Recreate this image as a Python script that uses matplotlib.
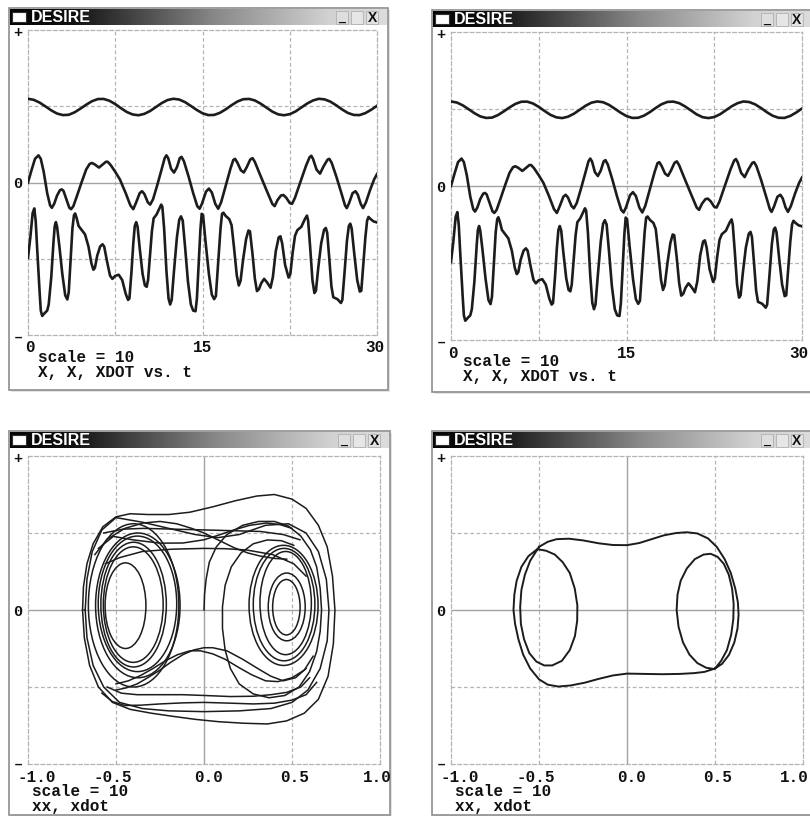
import numpy as np
import matplotlib
matplotlib.use('Agg')
import matplotlib.pyplot as plt
from matplotlib.patches import Rectangle, Ellipse
from matplotlib.colors import LinearSegmentedColormap

W, H = 810, 816
INK = '#1c1c1c'

# ---------------- time histories (display units, scale = 10) ----------------
t_force = np.arange(0, 30.5, 0.5)
y_force = [0.549, 0.542, 0.524, 0.499, 0.473, 0.452, 0.442, 0.444, 0.460, 0.484,
           0.510, 0.533, 0.547, 0.548, 0.536, 0.514, 0.487, 0.462, 0.446, 0.441,
           0.450, 0.469, 0.495, 0.521, 0.541, 0.549, 0.544, 0.527, 0.502, 0.476,
           0.454, 0.442, 0.443, 0.457, 0.480, 0.507, 0.531, 0.546, 0.548, 0.538,
           0.517, 0.491, 0.465, 0.447, 0.441, 0.448, 0.466, 0.492, 0.518, 0.538,
           0.549, 0.545, 0.530, 0.506, 0.479, 0.456, 0.443, 0.442, 0.455, 0.477,
           0.503]

t_x = [0, 0.3, 0.6, 0.9, 1.1, 1.35, 1.65, 1.9, 2.05, 2.25, 2.5, 2.75, 2.9, 3.05,
       3.3, 3.55, 3.7, 3.9, 4.2, 4.6, 5.0, 5.3, 5.5, 5.75, 6.1, 6.45, 6.7, 6.85,
       7.1, 7.5, 7.9, 8.4, 8.8, 9.05, 9.3, 9.6, 9.8, 10.0, 10.3, 10.5, 10.75,
       11.1, 11.5, 11.75, 11.9, 12.05, 12.3, 12.55, 12.8, 13.05, 13.2, 13.4,
       13.8, 14.2, 14.55, 14.75, 14.95, 15.3, 15.55, 15.8, 16.1, 16.35, 16.6,
       17.0, 17.4, 17.65, 17.8, 18.0, 18.3, 18.55, 18.8, 19.1, 19.3, 19.5, 19.9,
       20.5, 21.0, 21.2, 21.45, 21.75, 21.95, 22.2, 22.5, 22.7, 22.95, 23.4,
       23.9, 24.2, 24.35, 24.5, 24.8, 25.1, 25.4, 25.75, 25.9, 26.1, 26.5, 26.9,
       27.25, 27.4, 27.6, 27.9, 28.15, 28.35, 28.6, 28.8, 29.05, 29.4, 29.75,
       30.0]
y_x = [0.0, 0.08, 0.155, 0.178, 0.155, 0.07, -0.07, -0.15, -0.166, -0.14, -0.085,
       -0.05, -0.045, -0.055, -0.11, -0.165, -0.175, -0.155, -0.09, 0.0, 0.085,
       0.122, 0.128, 0.118, 0.098, 0.12, 0.136, 0.136, 0.115, 0.07, 0.02, -0.07,
       -0.15, -0.175, -0.13, -0.07, -0.057, -0.075, -0.13, -0.145, -0.11, -0.02,
       0.09, 0.16, 0.178, 0.16, 0.09, 0.065, 0.10, 0.16, 0.168, 0.14, 0.04,
       -0.07, -0.155, -0.172, -0.14, -0.06, -0.04, -0.065, -0.14, -0.172, -0.13,
       -0.02, 0.09, 0.148, 0.155, 0.13, 0.08, 0.066, 0.10, 0.15, 0.16, 0.135,
       0.06, -0.05, -0.14, -0.155, -0.115, -0.085, -0.082, -0.10, -0.135, -0.14,
       -0.10, 0.0, 0.11, 0.165, 0.175, 0.155, 0.085, 0.058, 0.105, 0.15, 0.155,
       0.13, 0.04, -0.06, -0.15, -0.168, -0.135, -0.07, -0.057, -0.08, -0.14,
       -0.168, -0.13, -0.05, 0.02, 0.055]

t_xdot = [0.0, 0.2, 0.4, 0.54, 0.66, 0.8, 1.0, 1.1, 1.22, 1.45, 1.65, 1.78, 2.0,
          2.2, 2.3, 2.4, 2.5, 2.7, 2.95, 3.2, 3.38, 3.5, 3.65, 3.82, 3.95, 4.05,
          4.17, 4.35, 4.6, 4.9, 5.2, 5.45, 5.62, 5.75, 5.95, 6.2, 6.4, 6.55, 6.8,
          7.05, 7.25, 7.5, 7.8, 8.1, 8.4, 8.6, 8.72, 8.9, 9.05, 9.18, 9.3, 9.42,
          9.6, 9.85, 10.05, 10.2, 10.32, 10.5, 10.65, 10.8, 11.05, 11.3, 11.45,
          11.55, 11.7, 11.9, 12.08, 12.22, 12.35, 12.55, 12.8, 13.0, 13.15, 13.3,
          13.5, 13.75, 14.0, 14.2, 14.4, 14.52, 14.68, 14.82, 14.93, 15.05, 15.25,
          15.55, 15.8, 16.0, 16.15, 16.35, 16.55, 16.68, 16.8, 17.0, 17.3, 17.5,
          17.7, 17.95, 18.12, 18.27, 18.5, 18.75, 18.95, 19.08, 19.3, 19.5, 19.68,
          19.85, 20.05, 20.3, 20.55, 20.85, 21.05, 21.3, 21.55, 21.7, 21.85, 22.1,
          22.4, 22.55, 22.75, 22.95, 23.15, 23.5, 23.8, 23.98, 24.08, 24.25, 24.45,
          24.62, 24.75, 24.95, 25.2, 25.45, 25.6, 25.72, 25.9, 26.08, 26.24, 26.6,
          26.9, 27.02, 27.2, 27.42, 27.58, 27.7, 27.82, 28.05, 28.3, 28.52, 28.65,
          28.82, 29.0, 29.15, 29.27, 29.45, 29.7, 30.0]
y_xdot = [-0.494, -0.36, -0.20, -0.17, -0.25, -0.45, -0.72, -0.84, -0.875, -0.855,
          -0.84, -0.80, -0.62, -0.38, -0.285, -0.26, -0.29, -0.42, -0.60, -0.74,
          -0.767, -0.72, -0.52, -0.30, -0.215, -0.203, -0.23, -0.285, -0.31, -0.34,
          -0.42, -0.53, -0.572, -0.56, -0.48, -0.42, -0.405, -0.42, -0.52, -0.61,
          -0.632, -0.612, -0.605, -0.64, -0.73, -0.77, -0.76, -0.58, -0.40, -0.285,
          -0.26, -0.29, -0.43, -0.60, -0.675, -0.684, -0.64, -0.47, -0.32, -0.235,
          -0.21, -0.17, -0.145, -0.16, -0.30, -0.58, -0.76, -0.80, -0.77, -0.58,
          -0.36, -0.245, -0.222, -0.25, -0.42, -0.65, -0.80, -0.84, -0.844, -0.76,
          -0.52, -0.31, -0.205, -0.215, -0.38, -0.60, -0.735, -0.765, -0.745, -0.52,
          -0.30, -0.205, -0.198, -0.22, -0.24, -0.28, -0.42, -0.61, -0.675, -0.645,
          -0.50, -0.37, -0.315, -0.32, -0.47, -0.63, -0.712, -0.70, -0.66, -0.632,
          -0.655, -0.69, -0.62, -0.45, -0.36, -0.353, -0.40, -0.54, -0.623, -0.60,
          -0.46, -0.35, -0.313, -0.29, -0.24, -0.217, -0.25, -0.42, -0.64, -0.725,
          -0.71, -0.56, -0.40, -0.31, -0.298, -0.33, -0.50, -0.68, -0.752, -0.765,
          -0.79, -0.77, -0.60, -0.38, -0.285, -0.27, -0.30, -0.47, -0.64, -0.715,
          -0.71, -0.54, -0.36, -0.25, -0.226, -0.24, -0.255, -0.262]

# ---------------- chaotic phase plane xx, xdot ----------------
# near-circular loops around each well: centre x, centre y, half width, half height
left_cx = [-0.446, -0.402, -0.400, -0.378, -0.376, -0.400]
left_cy = [0.028, 0.035, 0.035, 0.040, 0.030, 0.030]
left_rx = [0.116, 0.170, 0.186, 0.223, 0.240, 0.257]
left_ry = [0.278, 0.375, 0.405, 0.440, 0.470, 0.530]
right_cx = [0.468, 0.470, 0.464, 0.455, 0.452]
right_cy = [0.018, 0.020, 0.045, 0.035, 0.030]
right_rx = [0.078, 0.105, 0.146, 0.175, 0.196]
right_ry = [0.180, 0.220, 0.335, 0.365, 0.390]

outer1 = [(-0.69, 0.0), (-0.685, 0.15), (-0.665, 0.30), (-0.63, 0.43), (-0.575, 0.54),
          (-0.50, 0.605), (-0.42, 0.625), (-0.32, 0.62), (-0.20, 0.62), (-0.08, 0.635),
          (0.05, 0.67), (0.18, 0.71), (0.30, 0.74), (0.40, 0.75), (0.50, 0.72),
          (0.58, 0.66), (0.65, 0.55), (0.70, 0.41), (0.73, 0.22), (0.744, 0.0),
          (0.735, -0.22), (0.705, -0.43), (0.65, -0.58), (0.57, -0.67), (0.47, -0.72),
          (0.36, -0.74), (0.22, -0.735), (0.08, -0.725), (-0.05, -0.71), (-0.18, -0.69),
          (-0.30, -0.67), (-0.42, -0.645), (-0.52, -0.60), (-0.60, -0.50), (-0.65, -0.36),
          (-0.68, -0.18), (-0.69, 0.0)]
outer2 = [(-0.675, 0.0), (-0.665, 0.20), (-0.635, 0.38), (-0.58, 0.52), (-0.50, 0.60),
          (-0.35, 0.57), (-0.20, 0.53), (-0.05, 0.49), (0.08, 0.47), (0.20, 0.49),
          (0.35, 0.55), (0.48, 0.56), (0.58, 0.50), (0.65, 0.38), (0.695, 0.20),
          (0.71, 0.0), (0.70, -0.20), (0.66, -0.38), (0.59, -0.52), (0.50, -0.60),
          (0.38, -0.64), (0.20, -0.655), (0.0, -0.66), (-0.20, -0.655), (-0.35, -0.64),
          (-0.48, -0.60), (-0.57, -0.50), (-0.63, -0.36), (-0.665, -0.18), (-0.675, 0.0)]
start_arc = [(0.0, 0.0), (0.003, 0.10), (0.012, 0.20), (0.03, 0.31), (0.07, 0.41),
             (0.13, 0.49), (0.22, 0.55), (0.31, 0.575), (0.40, 0.575), (0.48, 0.545),
             (0.55, 0.48), (0.605, 0.39), (0.64, 0.28), (0.66, 0.14), (0.668, 0.0),
             (0.66, -0.14), (0.64, -0.27), (0.60, -0.40), (0.54, -0.50), (0.46, -0.555),
             (0.37, -0.57), (0.28, -0.545), (0.20, -0.48), (0.15, -0.38), (0.12, -0.26),
             (0.105, -0.12), (0.105, 0.02), (0.12, 0.16), (0.155, 0.28), (0.21, 0.37),
             (0.28, 0.43), (0.36, 0.455), (0.44, 0.45), (0.51, 0.42)]
top1 = [(-0.56, 0.30), (-0.48, 0.34), (-0.35, 0.38), (-0.18, 0.395), (0.0, 0.40),
        (0.12, 0.398), (0.24, 0.39), (0.39, 0.36), (0.51, 0.30), (0.58, 0.22)]
top2 = [(-0.62, 0.36), (-0.55, 0.46), (-0.45, 0.53), (-0.345, 0.565), (-0.25, 0.575),
        (-0.155, 0.56), (-0.07, 0.53), (0.0, 0.50), (0.08, 0.455), (0.17, 0.405),
        (0.25, 0.37), (0.32, 0.35), (0.40, 0.335), (0.47, 0.33)]
top3 = [(-0.60, 0.40), (-0.515, 0.478), (-0.40, 0.455), (-0.25, 0.434), (-0.12, 0.435),
        (0.0, 0.456), (0.08, 0.485), (0.17, 0.52), (0.26, 0.55), (0.356, 0.565),
        (0.43, 0.555), (0.50, 0.53)]
top4 = [(-0.57, 0.50), (-0.46, 0.525), (-0.345, 0.53), (-0.17, 0.525), (0.0, 0.52),
        (0.16, 0.515), (0.32, 0.51), (0.45, 0.49), (0.545, 0.456)]
bot1 = [(0.58, -0.38), (0.52, -0.44), (0.45, -0.46), (0.38, -0.43), (0.32, -0.39),
        (0.22, -0.32), (0.13, -0.265), (0.05, -0.245), (0.0, -0.245), (-0.06, -0.26),
        (-0.12, -0.29), (-0.19, -0.34), (-0.25, -0.39), (-0.32, -0.44), (-0.38, -0.48),
        (-0.44, -0.505), (-0.50, -0.52)]
bot2 = [(0.62, -0.30), (0.57, -0.39), (0.50, -0.44), (0.42, -0.465), (0.35, -0.46),
        (0.27, -0.42), (0.20, -0.375), (0.12, -0.32), (0.05, -0.285), (-0.02, -0.265),
        (-0.08, -0.265), (-0.15, -0.29), (-0.22, -0.33), (-0.29, -0.38), (-0.36, -0.425),
        (-0.43, -0.46), (-0.50, -0.48)]
bot3 = [(0.60, -0.44), (0.55, -0.50), (0.47, -0.535), (0.38, -0.55), (0.28, -0.56),
        (0.15, -0.562), (0.0, -0.555), (-0.12, -0.55), (-0.25, -0.55), (-0.38, -0.55),
        (-0.47, -0.54), (-0.55, -0.50)]
bot4 = [(0.64, -0.47), (0.58, -0.55), (0.50, -0.585), (0.40, -0.605), (0.28, -0.61),
        (0.15, -0.605), (0.0, -0.60), (-0.12, -0.603), (-0.25, -0.61), (-0.36, -0.618),
        (-0.45, -0.62), (-0.52, -0.595), (-0.58, -0.54)]

# ---------------- periodic orbit xx, xdot ----------------
orbit = [(-0.50, 0.41), (-0.45, 0.443), (-0.40, 0.46), (-0.33, 0.463), (-0.25, 0.452),
         (-0.16, 0.433), (-0.08, 0.422), (0.0, 0.421), (0.07, 0.435), (0.14, 0.46),
         (0.21, 0.485), (0.28, 0.50), (0.34, 0.505), (0.40, 0.497), (0.46, 0.465),
         (0.51, 0.41), (0.555, 0.33), (0.59, 0.24), (0.615, 0.14), (0.63, 0.05),
         (0.634, -0.03), (0.628, -0.12), (0.61, -0.21), (0.58, -0.29), (0.54, -0.35),
         (0.495, -0.383), (0.45, -0.375), (0.40, -0.345), (0.355, -0.29), (0.318, -0.21),
         (0.293, -0.11), (0.282, 0.0), (0.287, 0.10), (0.305, 0.19), (0.34, 0.27),
         (0.385, 0.33), (0.435, 0.36), (0.475, 0.365), (0.515, 0.345), (0.55, 0.30),
         (0.578, 0.23), (0.597, 0.14), (0.606, 0.04), (0.604, -0.06), (0.592, -0.16),
         (0.568, -0.26), (0.535, -0.33), (0.50, -0.38), (0.44, -0.402), (0.38, -0.41),
         (0.30, -0.415), (0.20, -0.417), (0.10, -0.415), (0.0, -0.413), (-0.08, -0.425),
         (-0.16, -0.447), (-0.24, -0.472), (-0.32, -0.49), (-0.39, -0.497), (-0.45, -0.485),
         (-0.50, -0.45), (-0.55, -0.38), (-0.59, -0.29), (-0.617, -0.19), (-0.636, -0.09),
         (-0.645, 0.0), (-0.64, 0.10), (-0.627, 0.19), (-0.60, 0.28), (-0.56, 0.35),
         (-0.51, 0.395), (-0.46, 0.385), (-0.41, 0.36), (-0.365, 0.31), (-0.325, 0.24),
         (-0.297, 0.14), (-0.282, 0.03), (-0.283, -0.07), (-0.296, -0.17), (-0.325, -0.26),
         (-0.37, -0.33), (-0.425, -0.36), (-0.47, -0.36), (-0.515, -0.335), (-0.555, -0.28),
         (-0.585, -0.19), (-0.603, -0.09), (-0.607, 0.02), (-0.60, 0.13), (-0.58, 0.23),
         (-0.55, 0.32), (-0.50, 0.41)]

t_ticks = ['0', '15', '30']
x_ticks = ['-1.0', '-0.5', '0.0', '0.5', '1.0']

MONO = 'Liberation Mono'
title_cmap = LinearSegmentedColormap.from_list(
    'bar', [(0, '#050505'), (0.16, '#101010'), (0.55, '#8a8a8a'), (0.85, '#d2d2d2'), (1, '#dcdcdc')])

fig = plt.figure(figsize=(8.1, 8.16), dpi=100)
fig.patch.set_facecolor('white')
bg = fig.add_axes([0, 0, 1, 1])
bg.set_axis_off()


def frac(x0, y0, x1, y1):
    return [x0 / W, 1 - y1 / H, (x1 - x0) / W, (y1 - y0) / H]


def draw_window(x0, y0, x1, y1, btn_x):
    bg.add_patch(Rectangle((x0 + 2, y0 + 2), x1 - x0, y1 - y0, fc='#e4e4e4', ec='none', zorder=0))
    bg.add_patch(Rectangle((x0, y0), x1 - x0, y1 - y0, fc='white', ec='#8e8e8e', lw=1.2, zorder=1))
    grad = np.linspace(0, 1, 256).reshape(1, -1)
    bg.imshow(grad, cmap=title_cmap, extent=(x0 + 1, x1 - 1, y0 + 17, y0 + 1),
              aspect='auto', zorder=2, interpolation='bilinear')
    bg.add_patch(Rectangle((x0 + 3, y0 + 4), 14, 10, fc='white', ec='#303030', lw=0.8, zorder=3))
    bg.text(x0 + 22, y0 + 9.5, 'DESIRE', color='white', fontsize=11.5, fontweight='bold',
            family='Liberation Sans', va='center', ha='left', zorder=4)
    for k, (glyph, face) in enumerate([('_', '#dedede'), ('', '#e6e6e6'), ('X', '#e2e2e2')]):
        bx = btn_x + k * 15
        bg.add_patch(Rectangle((bx, y0 + 3), 12, 13, fc=face, ec='#b0b0b0', lw=0.6, zorder=3))
        if glyph:
            bg.text(bx + 6, y0 + 10, glyph, fontsize=10 if glyph == 'X' else 9,
                    fontweight='bold', family='Liberation Sans', ha='center', va='center',
                    color='#111111', zorder=4)


def plot_axes(x0, y0, x1, y1, xlim, vsolid):
    ax = fig.add_axes(frac(x0, y0, x1, y1))
    ax.set_facecolor('none')
    ax.set_xlim(*xlim)
    ax.set_ylim(-1, 1)
    ax.set_xticks([])
    ax.set_yticks([])
    for sp in ax.spines.values():
        sp.set_color('#b4b4b4')
        sp.set_linestyle((0, (3, 2)))
        sp.set_linewidth(0.9)
    span = xlim[1] - xlim[0]
    for q in (0.25, 0.5, 0.75):
        xv = xlim[0] + q * span
        if q == 0.5 and vsolid:
            ax.axvline(xv, color='#a2a2a2', lw=1.0, zorder=1)
        else:
            ax.axvline(xv, color='#b4b4b4', lw=0.9, ls=(0, (3, 2)), zorder=1)
    for yv in (-0.5, 0.5):
        ax.axhline(yv, color='#b4b4b4', lw=0.9, ls=(0, (3, 2)), zorder=1)
    ax.axhline(0, color='#a2a2a2', lw=1.0, zorder=1)
    return ax


def side_labels(x, ytop, yzero, ybot):
    kw = dict(family=MONO, fontweight='bold', fontsize=11, ha='center', va='center', color='#111111')
    bg.text(x, ytop, '+', **kw)
    bg.text(x, yzero, '0', **kw)
    bg.text(x, ybot, '–', **kw)


txt = dict(family=MONO, fontweight='bold', fontsize=11.5, color='#111111', va='center')

# ---- upper windows: X, X, XDOT vs. t ----
for (wx0, wy0, wx1, wy1, btn, fx0, fy0, fx1, fy1, tx) in [
        (9, 8, 388, 390, 336, 28, 30, 377, 335, 38),
        (432, 10, 812, 392, 761, 451, 32, 802, 340, 463)]:
    draw_window(wx0, wy0, wx1, wy1, btn)
    ax = plot_axes(fx0, fy0, fx1, fy1, (0, 30), vsolid=False)
    ax.plot(t_force, y_force, color=INK, lw=1.9, zorder=3)
    ax.plot(t_x, y_x, color=INK, lw=1.9, zorder=3)
    ax.plot(t_xdot, y_xdot, color=INK, lw=1.9, zorder=3)
    side_labels(fx0 - 10, fy0 + 3, (fy0 + fy1) / 2 + 2, fy1 + 2)
    ly = fy1 + 13
    bg.text(fx0 + 2, ly, t_ticks[0], ha='center', **txt)
    bg.text((fx0 + fx1) / 2, ly, t_ticks[1], ha='center', **txt)
    bg.text(min(fx1 - 2, W - 11), ly, t_ticks[2], ha='center', **txt)
    bg.text(tx, fy1 + 22, 'scale = 10', ha='left', **txt)
    bg.text(tx, fy1 + 37, 'X, X, XDOT vs. t', ha='left', **txt)

# ---- lower windows: xx, xdot ----
phase_axes = []
for (wx0, wx1, btn, fx0, fx1, tx) in [(9, 390, 338, 28, 380, 32), (432, 812, 761, 451, 803, 455)]:
    draw_window(wx0, 431, wx1, 815, btn)
    ax = plot_axes(fx0, 456, fx1, 764, (-1, 1), vsolid=True)
    phase_axes.append(ax)
    side_labels(fx0 - 10, 459, 612, 764)
    step = (fx1 - fx0) / 4
    centres = [fx0 + 9, fx0 + step - 3, fx0 + 2 * step + 5, fx0 + 3 * step + 3,
               min(fx1 - 3, W - 16)]
    for lab, cx in zip(x_ticks, centres):
        bg.text(cx, 777, lab, ha='center', **txt)
    bg.text(tx, 792, 'scale = 10', ha='left', **txt)
    bg.text(tx, 807, 'xx, xdot', ha='left', **txt)

ax_chaos, ax_orbit = phase_axes
for cx, cy, rx, ry in zip(left_cx + right_cx, left_cy + right_cy,
                          left_rx + right_rx, left_ry + right_ry):
    ax_chaos.add_patch(Ellipse((cx, cy), 2 * rx, 2 * ry, fill=False, ec=INK, lw=1.1, zorder=3))
for curve in (outer1, outer2, start_arc, top1, top2, top3, top4, bot1, bot2, bot3, bot4):
    xs, ys = zip(*curve)
    ax_chaos.plot(xs, ys, color=INK, lw=1.1, zorder=3)

xs, ys = zip(*orbit)
ax_orbit.plot(xs, ys, color=INK, lw=1.4, zorder=3)

bg.set_xlim(0, W)
bg.set_ylim(H, 0)
fig.savefig('out.png', dpi=100, facecolor='white')
